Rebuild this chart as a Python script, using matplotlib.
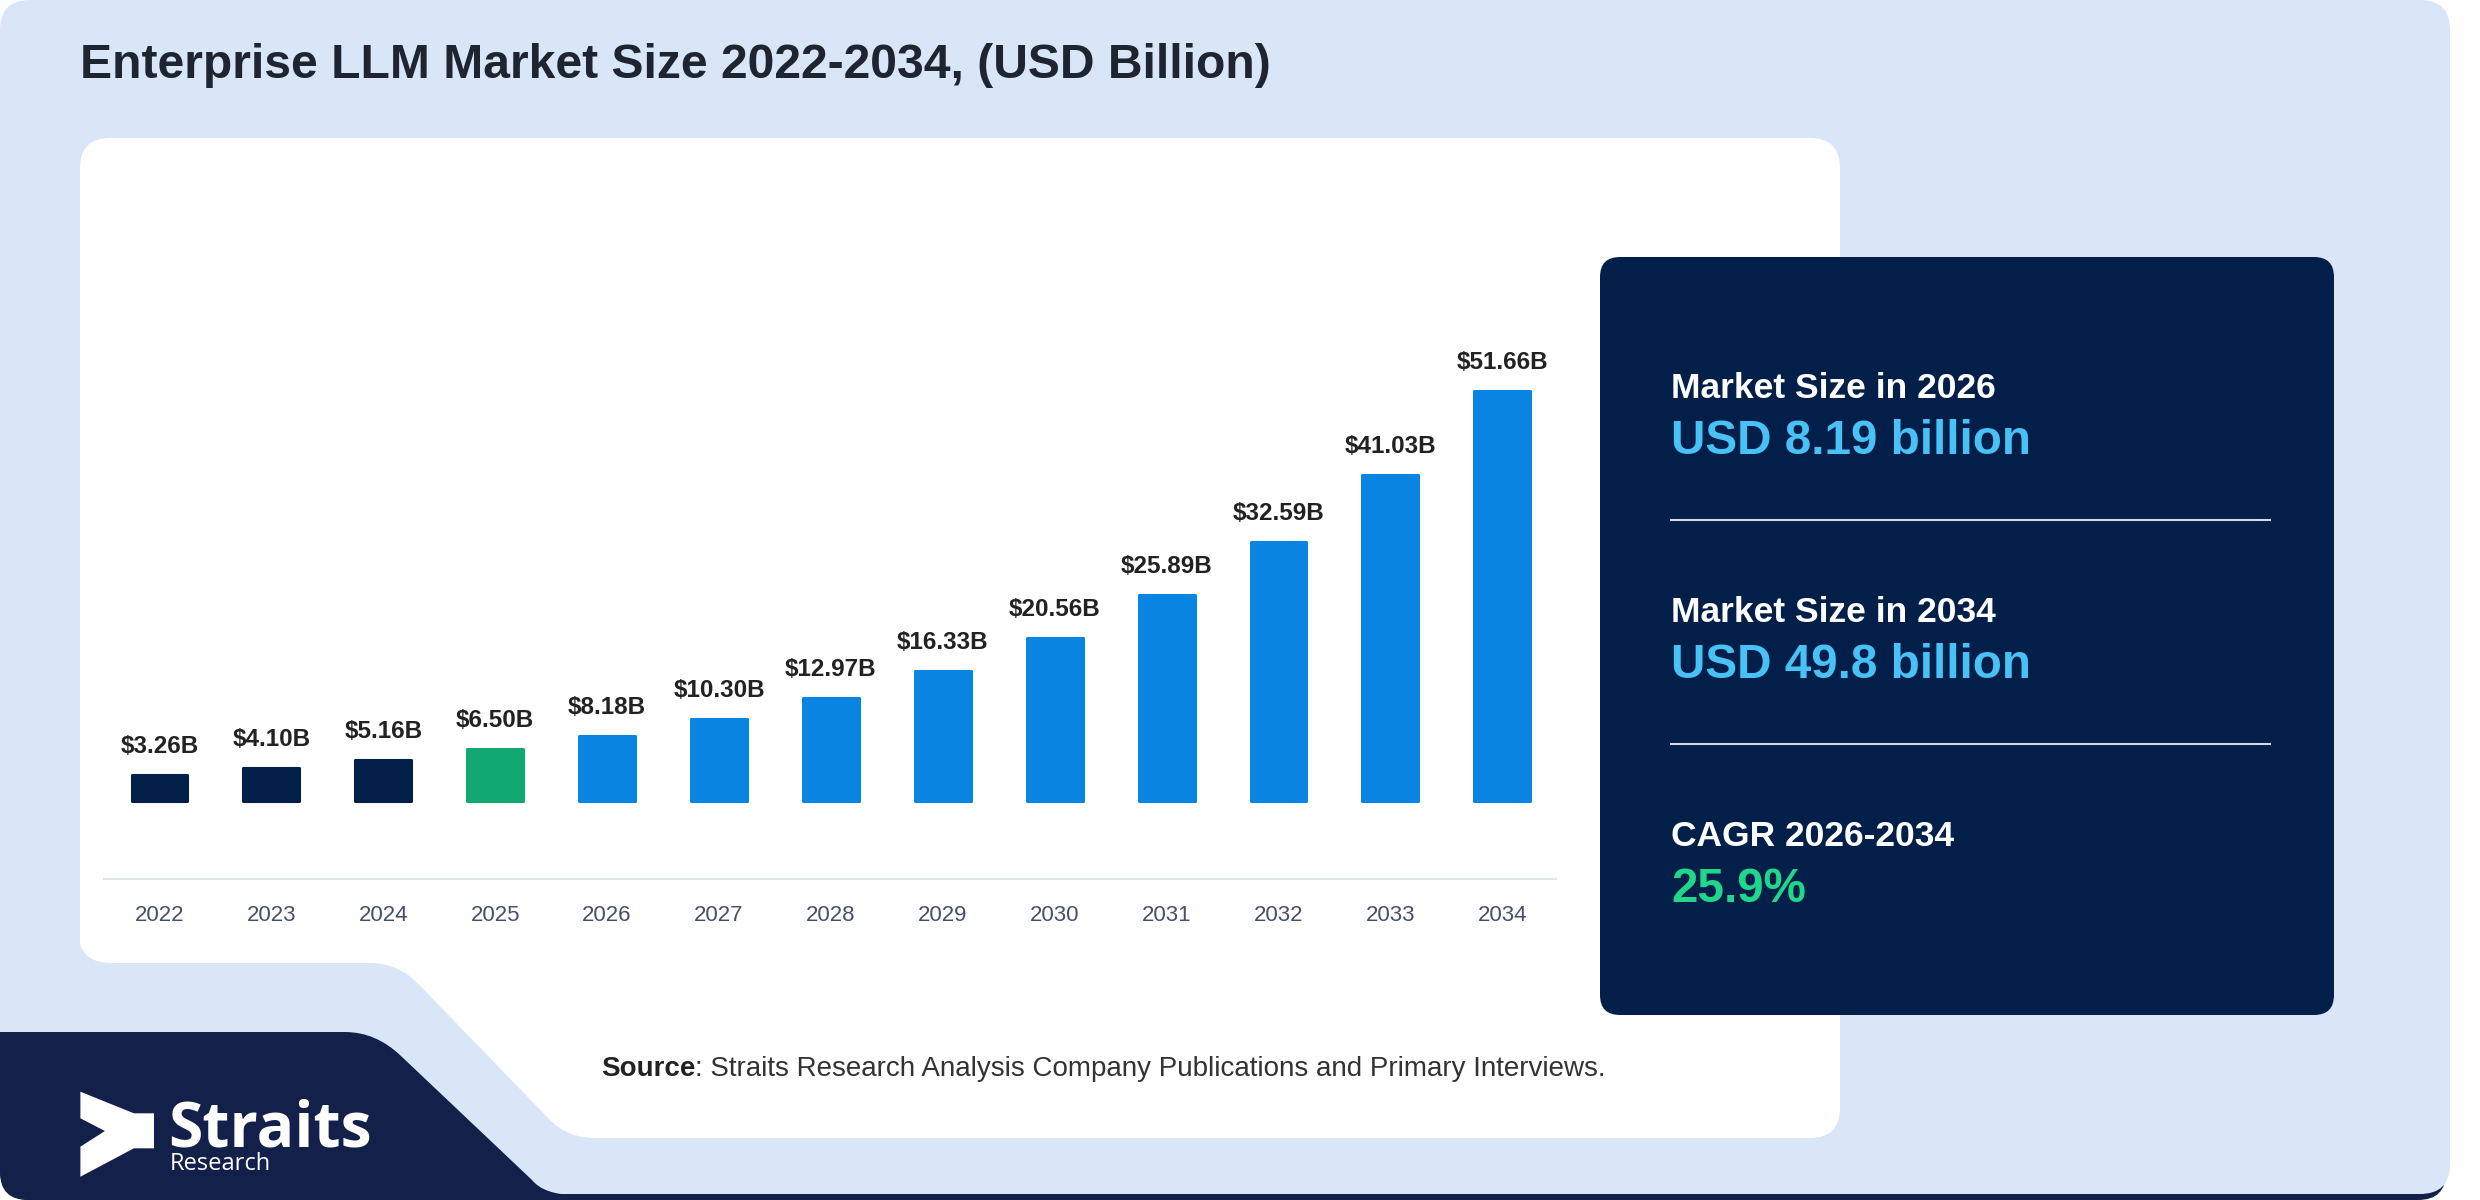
import matplotlib
matplotlib.use("Agg")
import matplotlib.pyplot as plt
from matplotlib.patches import FancyBboxPatch, PathPatch, Polygon
from matplotlib.path import Path

plt.rcParams['font.family'] = ['Liberation Sans', 'DejaVu Sans']

# ---------------- data ----------------
years = ["2022", "2023", "2024", "2025", "2026", "2027", "2028",
         "2029", "2030", "2031", "2032", "2033", "2034"]
values = [3.26, 4.10, 5.16, 6.50, 8.18, 10.30, 12.97,
          16.33, 20.56, 25.89, 32.59, 41.03, 51.66]
segments = ["hist", "hist", "hist", "base", "fc", "fc", "fc",
            "fc", "fc", "fc", "fc", "fc", "fc"]

title = "Enterprise LLM Market Size 2022-2034, (USD Billion)"
stat_labels = ["Market Size in 2026", "Market Size in 2034", "CAGR 2026-2034"]
stat_values = ["USD 8.19 billion", "USD 49.8 billion", "25.9%"]
source_label = "Source"
source_text = ": Straits Research Analysis Company Publications and Primary Interviews."
brand_name = "Straits"
brand_sub = "Research"

# ---------------- styles ----------------
LIGHT = "#d9e6f8"
NAVY_BASE = "#13204a"
PANEL = "#021f4a"
seg_colors = {"hist": "#021f4a", "base": "#11a872", "fc": "#0984e3"}
CYAN = "#48c1f6"
GREEN = "#1fd68b"

W, H = 2480, 1200
fig = plt.figure(figsize=(W / 100, H / 100), dpi=100)
fig.patch.set_facecolor("white")
bg = fig.add_axes([0, 0, 1, 1])
bg.set_xlim(0, W)
bg.set_ylim(H, 0)
bg.axis("off")


def rbox(x0, y0, x1, y1, r, color, z):
    p = FancyBboxPatch((x0, y0), x1 - x0, y1 - y0,
                       boxstyle=f"round,pad=0,rounding_size={r}",
                       fc=color, ec="none", zorder=z)
    bg.add_patch(p)


# background layers
rbox(0, 1100, 2446, 1200, 28, NAVY_BASE, 1)
rbox(0, 0, 2450, 1194, 30, LIGHT, 2)
rbox(80, 138, 1840, 1138, 30, "white", 3)

# notch cut into white panel (light blue)
M, L, C = Path.MOVETO, Path.LINETO, Path.CURVE3
notch_v = [(40, 880), (78, 880), (78, 930), (78, 963), (111, 963),
           (370, 963), (398, 963), (418, 983.6),
           (549.5, 1119.5), (567.5, 1138), (595, 1138),
           (595, 1170), (40, 1170), (40, 880)]
notch_c = [M, L, L, C, C, L, C, C, L, C, C, L, L, L]
bg.add_patch(PathPatch(Path(notch_v, notch_c), fc=LIGHT, ec="none", zorder=4))

# navy bottom-left block
navy_v = [(0, 1032), (345, 1032), (376, 1032), (401, 1056),
          (532, 1180), (544, 1195), (576, 1195),
          (576, 1200), (30, 1200), (0, 1200), (0, 1170), (0, 1032)]
navy_c = [M, L, C, C, L, C, C, L, L, C, C, L]
bg.add_patch(PathPatch(Path(navy_v, navy_c), fc=NAVY_BASE, ec="none", zorder=5))

# logo mark
logo = [(80.4, 1091.7), (133.9, 1113.3), (154, 1113.3), (154, 1148.3),
        (133.9, 1148.3), (80.4, 1176.7), (80.4, 1146.7), (104.9, 1131),
        (80.4, 1118.3)]
bg.add_patch(Polygon(logo, closed=True, fc="white", ec="none", zorder=6))
bg.text(168, 1146.7, brand_name, family=["Open Sans", "DejaVu Sans"],
        fontweight="bold", fontsize=45, color="white", va="baseline",
        ha="left", zorder=7)
bg.text(170, 1170, brand_sub, family=["Open Sans", "DejaVu Sans"],
        fontsize=17, color="white", va="baseline", ha="left", zorder=7)

# title
bg.text(80, 78, title, fontsize=34.6, fontweight="bold", color="#1e2530",
        va="baseline", ha="left", zorder=7)

# right stats panel
rbox(1600, 257, 2334, 1015, 20, PANEL, 6)
label_base = [398, 622, 846]
value_base = [454, 678, 902]
value_cols = [CYAN, CYAN, GREEN]
for lab, val, yb1, yb2, vc in zip(stat_labels, stat_values, label_base,
                                  value_base, value_cols):
    bg.text(1671, yb1, lab, fontsize=25.5, fontweight="bold", color="white",
            va="baseline", ha="left", zorder=7)
    bg.text(1671, yb2, val, fontsize=34.3, fontweight="bold", color=vc,
            va="baseline", ha="left", zorder=7)
for yl in [520, 744]:
    bg.plot([1670, 2271], [yl, yl], color="#d4dae4", lw=1.5, zorder=7,
            solid_capstyle="butt")

# source
t1 = bg.text(601, 1076, source_label, fontsize=20, fontweight="bold",
             color="#222222", va="baseline", ha="left", zorder=7)
bg.annotate(source_text, xy=(1, 0), xycoords=t1, fontsize=20,
            color="#333333", va="bottom", ha="left", zorder=7)

# ---------------- bar chart ----------------
ax_left, ax_right = 104, 1556
ax_top, ax_bottom = 200, 879
ax = fig.add_axes([ax_left / W, 1 - ax_bottom / H,
                   (ax_right - ax_left) / W, (ax_bottom - ax_top) / H])
ax.set_facecolor("none")
ax.set_zorder(8)
x = list(range(len(years)))
cols = [seg_colors[s] for s in segments]
ax.bar(x, values, width=0.50, color=cols, edgecolor=cols, linewidth=2.2,
       joinstyle="round", zorder=3)
for xi, v in zip(x, values):
    ax.annotate(f"${v:.2f}B", xy=(xi, v), xytext=(0, 16),
                textcoords="offset points", ha="center", va="baseline",
                fontsize=17.5, fontweight="bold", color="#222222")
ax.set_xlim(-0.496, 12.48)
ax.set_ylim(-9.82, 75.7)
ax.set_xticks(x, years)
ax.set_yticks([])
ax.tick_params(axis="x", length=0, pad=19, labelsize=16, labelcolor="#44506b")
for s in ["top", "left", "right"]:
    ax.spines[s].set_visible(False)
ax.spines["bottom"].set_color("#e1e5ec")
ax.spines["bottom"].set_linewidth(1.5)

fig.savefig("out.png", dpi=100, facecolor="white")
